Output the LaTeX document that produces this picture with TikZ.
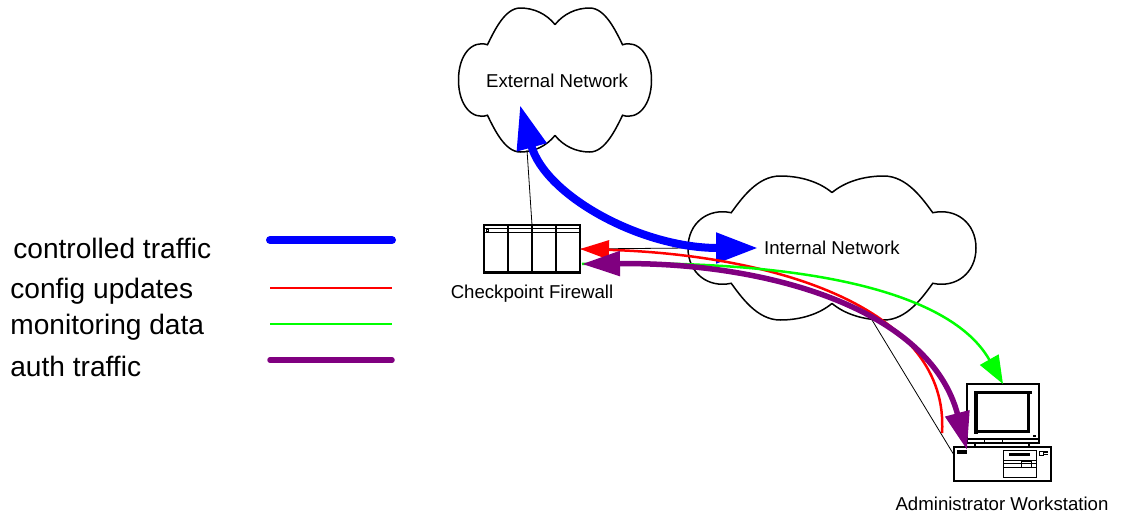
\documentclass[tikz,border=0pt]{standalone}
\usepackage{fontspec}
\setmainfont{Liberation Sans}
\usetikzlibrary{arrows.meta}
\definecolor{authpurple}{RGB}{128,0,128}
\definecolor{monitorgreen}{RGB}{0,255,0}
\tikzset{
    smalllabel/.style={font=\fontsize{10.6}{12}\selectfont, inner sep=0pt},
    legendlabel/.style={font=\fontsize{16}{18}\selectfont, anchor=west, inner sep=0pt},
    devicebox/.style={draw, line width=0.04cm, inner sep=0pt, outer sep=0pt},
    thinlink/.style={line width=0.016cm},
    controlled/.style={blue, line width=0.16cm},
    config/.style={red, line width=0.05cm},
    monitoring/.style={monitorgreen, line width=0.05cm},
    auth/.style={authpurple, line width=0.11cm},
    netcloud/.pic={
        \foreach \sx/\sy in {1/1, -1/1, 1/-1, -1/-1} {
            \draw[line width=0.03cm, xscale=\sx, yscale=\sy]
                (0,-.77) .. controls (.09,-.92) and (.22,-1) .. (.36,-1)
                .. controls (.52,-1) and (.63,-.68) .. (.7,-.49)
                .. controls (.86,-.56) and (1,-.35) .. (1,0);
        }
    }
}

\begin{document}
\begin{tikzpicture}[x=0.02cm, y=-0.02cm]
    \useasboundingbox (0,0) rectangle (1130,514);

    % Legend
    \node[legendlabel] (lblcontrolled) at (13,248) {controlled traffic};
    \node[legendlabel] (lblconfig) at (10,291) {config updates};
    \node[legendlabel] (lblmonitoring) at (10,327) {monitoring data};
    \node[legendlabel] (lblauth) at (10,366) {auth traffic};
    \coordinate (a1) at (270,240); \coordinate (a2) at (392,240);
    \coordinate (b1) at (270,288); \coordinate (b2) at (392,288);
    \coordinate (c1) at (270,324); \coordinate (c2) at (392,324);
    \coordinate (d1) at (270,360); \coordinate (d2) at (392,360);
    \draw[controlled, line cap=round] (a1) -- (a2);
    \draw[red, line width=0.04cm] (b1) -- (b2);
    \draw[monitorgreen, line width=0.04cm] (c1) -- (c2);
    \draw[auth, line cap=round] (d1) -- (d2);

    % Clouds
    \pic[xscale=96.5, yscale=72] at (555,80) {netcloud};
    \pic[xscale=144, yscale=72] at (832,248) {netcloud};
    \node[smalllabel] (external) at (557,81) {External Network};
    \node[smalllabel] (internal) at (832,248) {Internal Network};

    % Firewall
    \node[devicebox, minimum width=1.92cm, minimum height=0.96cm] (firewall) at (532,249) {};
    \draw[line width=0.03cm] (508,225) -- (508,273) (532,225) -- (532,273) (556,225) -- (556,273);
    \draw[line width=0.02cm] (484,228) -- (580,228) (484,232) -- (580,232);
    \draw[line width=0.05cm] (484,272) -- (580,272);
    \draw[line width=0.012cm] (486,229) rectangle (488,231);
    \node[smalllabel] (fwlabel) at (532,294) {Checkpoint Firewall};

    % Workstation
    \node[devicebox, minimum width=1.44cm, minimum height=1.18cm] (monitor) at (1003,413.5) {};
    \draw[line width=0.03cm] (967,439) -- (1039,439);
    \draw[line width=0.016cm] (984,439) -- (984,443) (1002,439) -- (1002,443);
    \fill[black] (974,391) rectangle (1032,394);
    \fill[black] (974,391) rectangle (978,434);
    \fill[black] (974,430) rectangle (1030,433);
    \fill[black] (1027,391) rectangle (1030,433);
    \fill[black] (1033,435) rectangle (1036,437);
    \draw[line width=0.03cm] (975,443) -- (975,447) (1029,443) -- (1029,447);
    \node[devicebox, minimum width=1.94cm, minimum height=0.68cm] (workstation) at (1002.5,464) {};
    \fill[black] (957,450) rectangle (967,454);
    \draw[line width=0.02cm] (1003,450) rectangle (1036,477);
    \draw[line width=0.016cm] (1003,460) -- (1036,460) (1003,463) -- (1036,463) (1003,467) -- (1036,467);
    \fill[black] (1009,453) rectangle (1030,456);
    \draw[line width=0.016cm] (1021,461) rectangle (1031,467);
    \draw[line width=0.016cm] (1039,451) rectangle (1043,455);
    \fill[black] (1044,451) rectangle (1048,453);
    \fill[black] (1044,454) rectangle (1048,455);
    \node[smalllabel] (wslabel) at (1002,504) {Administrator Workstation};

    % Thin links
    \coordinate (extport) at (527,150);
    \coordinate (intleft) at (688,248);
    \coordinate (intbottom) at (872,320);
    \coordinate (wsport) at (954,455);
    \draw[thinlink] (firewall.north) -- (extport);
    \draw[thinlink] (firewall.east) -- (intleft);
    \draw[thinlink] (intbottom) -- (wsport);

    % Traffic arrows
    \coordinate (extin) at (520,105);
    \coordinate (intin) at (758,248);
    \coordinate (fwlow) at (582,264);
    \coordinate (redend) at (942,433);
    \coordinate (pcin) at (967,450);
    \draw[controlled, {Triangle[length=0.88cm, width=0.58cm]}-{Triangle[length=0.84cm, width=0.58cm]}]
        (extin) .. controls (545,195) and (640,248) .. (intin);
    \draw[config, {Triangle[length=0.58cm, width=0.38cm]}-]
        (firewall.east) .. controls (780,255) and (950,310) .. (redend);
    \draw[monitoring, -{Triangle[length=0.56cm, width=0.42cm]}]
        (fwlow) .. controls (800,258) and (950,290) .. (monitor.north);
    \draw[auth, {Triangle[length=0.76cm, width=0.48cm]}-{Triangle[length=0.76cm, width=0.48cm]}]
        (fwlow) .. controls (770,262) and (930,310) .. (pcin);
\end{tikzpicture}
\end{document}
